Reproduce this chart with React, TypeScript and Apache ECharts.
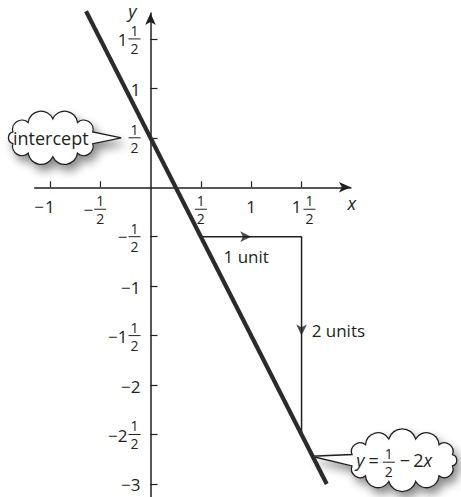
import React, { useEffect, useRef } from "react";
import * as echarts from "echarts";

// ---------- data ----------
const X_MIN = -1.15;
const X_MAX = 1.99;
const Y_MIN = -3.13;
const Y_MAX = 1.762;

const xTickValues = [-1, -0.5, 0.5, 1, 1.5];
const xTickLabels = ["−1", "−1/2", "1/2", "1", "1 1/2"];
const yTickValues = [-3, -2.5, -2, -1.5, -1, -0.5, 0.5, 1, 1.5];
const yTickLabels = ["−3", "−2 1/2", "−2", "−1 1/2", "−1", "−1/2", "1/2", "1", "1 1/2"];

const lineX = [-0.64, 1.75];
const lineY = [1.78, -3.0];

const stepX = [0.5, 1.5, 1.5];
const stepY = [-0.5, -0.5, -2.5];

const arrowX = [1.0, 1.5];
const arrowY = [-0.5, -1.5];
const arrowRotate = [-90, 180];

const stepLabels = ["1 unit", "2 units"];
const stepLabelX = [0.95, 1.6];
const stepLabelY = [-0.7, -1.45];

const interceptText = "intercept";
const interceptTip = [-0.29, 0.5];
const interceptCenter = [-0.97, 0.5];
const equationTip = [1.6, -2.72];
const equationCenter = [2.5, -2.76];

// ---------- style ----------
const INK = "#231f20";
const FONT = '"Open Sans", "Noto Sans", sans-serif';
const MAIN = 17;
const FRAC = 14;
const BAR_W = 12;

let measureCtx: CanvasRenderingContext2D | null = null;
function tw(s: string, size: number, italic = false) {
  if (!measureCtx) measureCtx = document.createElement("canvas").getContext("2d");
  if (!measureCtx) return s.length * size * 0.55;
  measureCtx.font = `${italic ? "italic " : ""}${size}px ${FONT}`;
  return measureCtx.measureText(s).width;
}

function txt(x: number, y: number, text: string, size: number, align = "center", italic = false) {
  return {
    type: "text",
    x,
    y,
    z: 20,
    silent: true,
    style: {
      text,
      fill: INK,
      fontSize: size,
      fontFamily: FONT,
      fontStyle: italic ? "italic" : "normal",
      align,
      verticalAlign: "middle",
      textAlign: align,
      textVerticalAlign: "middle",
    },
  };
}

function fraction(cx: number, barY: number, num: string, den: string, size = FRAC, barW = BAR_W) {
  return [
    txt(cx, barY - 8.5, num, size),
    {
      type: "line",
      z: 20,
      silent: true,
      shape: { x1: cx - barW / 2, y1: barY, x2: cx + barW / 2, y2: barY },
      style: { stroke: INK, lineWidth: 1 },
    },
    txt(cx, barY + 9.5, den, size),
  ];
}

function parseLabel(s0: string) {
  let s = s0;
  let sign = "";
  if (s.startsWith("−")) {
    sign = "−";
    s = s.slice(1);
  }
  let whole = "";
  let num = "";
  let den = "";
  const parts = s.split(" ");
  if (parts.length === 2) {
    whole = parts[0];
    [num, den] = parts[1].split("/");
  } else if (s.includes("/")) {
    [num, den] = s.split("/");
  } else whole = s;
  return { sign, whole, num, den };
}

function xLabel(label: string, tx: number, axisY: number) {
  const { sign, whole, num, den } = parseLabel(label);
  const wW = whole ? tw(whole, MAIN) : 0;
  const fW = num ? BAR_W : 0;
  const gap = whole && num ? 2 : 0;
  const total = wW + gap + fW;
  const left = tx - total / 2 + (whole && num ? 2 : 0);
  const wholeY = axisY + 19;
  const barY = axisY + 22;
  const out: any[] = [];
  if (whole) out.push(txt(left, wholeY, whole, MAIN, "left"));
  if (num) out.push(...fraction(left + wW + gap + fW / 2, barY, num, den));
  if (sign) out.push(txt(left - 1, num && !whole ? barY : wholeY, sign, MAIN, "right"));
  return out;
}

function yLabel(label: string, axisX: number, ty: number) {
  const { sign, whole, num, den } = parseLabel(label);
  const xr = axisX - 10;
  const out: any[] = [];
  if (num) out.push(...fraction(xr - BAR_W / 2, ty, num, den));
  const right = num ? xr - BAR_W - 1 : xr;
  if (whole || sign) out.push(txt(right, num && !whole ? ty : ty + 1, sign + whole, MAIN, "right"));
  return out;
}

function cloudPath(rx: number, ry: number, n: number, tailDeg: number, tipX: number, tipY: number) {
  const ta = (tailDeg * Math.PI) / 180;
  const d = (2 * Math.PI) / n;
  const pts: number[][] = [];
  for (let i = 0; i < n; i++) {
    const a = ta + d / 2 + i * d;
    pts.push([rx * Math.cos(a), ry * Math.sin(a)]);
  }
  let s = `M${pts[0][0].toFixed(2)} ${pts[0][1].toFixed(2)}`;
  for (let i = 0; i < n - 1; i++) {
    const p = pts[i];
    const q = pts[i + 1];
    const c = Math.hypot(q[0] - p[0], q[1] - p[1]);
    const r = c * 0.52;
    s += ` A${r.toFixed(2)} ${r.toFixed(2)} 0 0 1 ${q[0].toFixed(2)} ${q[1].toFixed(2)}`;
  }
  s += ` L${tipX.toFixed(2)} ${tipY.toFixed(2)} Z`;
  return s;
}

export default function App() {
  const ref = useRef<HTMLDivElement>(null);

  useEffect(() => {
    if (!ref.current) return;
    const chart = echarts.init(ref.current, null, { renderer: "svg" });

    const axisLine = {
      onZero: true,
      symbol: ["none", "arrow"],
      symbolSize: [8, 12],
      lineStyle: { color: INK, width: 1.5 },
    };

    chart.setOption({
      animation: false,
      backgroundColor: "#fff",
      grid: { left: 34.7, top: 13, width: 316.2, height: 483.8, containLabel: false },
      xAxis: {
        type: "value",
        min: X_MIN,
        max: X_MAX,
        axisLine,
        axisTick: { show: true, inside: true, length: 6, customValues: xTickValues, lineStyle: { color: INK, width: 1.2 } },
        axisLabel: { show: false },
        splitLine: { show: false },
      },
      yAxis: {
        type: "value",
        min: Y_MIN,
        max: Y_MAX,
        axisLine,
        axisTick: { show: true, inside: true, length: 7, customValues: yTickValues, lineStyle: { color: INK, width: 1.2 } },
        axisLabel: { show: false },
        splitLine: { show: false },
      },
      series: [
        {
          type: "line",
          data: stepX.map((x, i) => [x, stepY[i]]),
          symbol: "none",
          lineStyle: { color: INK, width: 1.5 },
          z: 2,
          silent: true,
        },
        {
          type: "scatter",
          data: arrowX.map((x, i) => ({ value: [x, arrowY[i]], symbolRotate: arrowRotate[i] })),
          symbol: "arrow",
          symbolSize: [8, 11],
          itemStyle: { color: INK },
          z: 3,
          silent: true,
        },
        {
          type: "line",
          data: lineX.map((x, i) => [x, lineY[i]]),
          symbol: "none",
          clip: false,
          lineStyle: { color: "#2b2b2b", width: 4.2 },
          z: 4,
          silent: true,
        },
      ],
    });

    const px = (x: number, y: number) => chart.convertToPixel({ gridIndex: 0 }, [x, y]) as number[];
    const origin = px(0, 0);
    const els: any[] = [];

    xTickValues.forEach((v, i) => {
      const p = px(v, 0);
      els.push(...xLabel(xTickLabels[i], p[0], origin[1]));
    });
    yTickValues.forEach((v, i) => {
      const p = px(0, v);
      els.push(...yLabel(yTickLabels[i], origin[0], p[1]));
    });

    const xEnd = px(X_MAX, 0);
    els.push(txt(xEnd[0] + 1, xEnd[1] + 16, "x", 18, "center", true));
    const yEnd = px(0, Y_MAX);
    els.push(txt(yEnd[0] - 18, yEnd[1] - 2, "y", 18, "center", true));

    stepLabels.forEach((s, i) => {
      const p = px(stepLabelX[i], stepLabelY[i]);
      els.push(txt(p[0], p[1], s, MAIN, i === 0 ? "center" : "left"));
    });

    // clouds
    const ic = px(interceptCenter[0], interceptCenter[1]);
    const it = px(interceptTip[0], interceptTip[1]);
    echarts.graphic.registerShape(
      "cloudIntercept",
      echarts.graphic.extendPath(cloudPath(42, 19, 10, 0, it[0] - ic[0], it[1] - ic[1]), {})
    );
    const ec = px(equationCenter[0], equationCenter[1]);
    const et = px(equationTip[0], equationTip[1]);
    echarts.graphic.registerShape(
      "cloudEquation",
      echarts.graphic.extendPath(cloudPath(52, 22, 12, 180, et[0] - ec[0], et[1] - ec[1]), {})
    );
    const cloudStyle = {
      fill: "#fff",
      stroke: INK,
      lineWidth: 1.3,
      shadowBlur: 10,
      shadowOffsetX: 4,
      shadowOffsetY: 6,
      shadowColor: "rgba(0,0,0,0.45)",
    };
    els.push({ type: "cloudIntercept", x: ic[0], y: ic[1], z: 15, silent: true, style: cloudStyle });
    els.push({ type: "cloudEquation", x: ec[0], y: ec[1], z: 15, silent: true, style: cloudStyle });
    els.push(txt(ic[0] - 2, ic[1], interceptText, 18));

    // equation text: y = 1/2 − 2x
    const ey = ec[1];
    let cx = ec[0] - 46;
    els.push(txt(cx, ey, "y", 18, "left", true));
    cx += tw("y", 18, true) + 4;
    els.push(txt(cx, ey, "=", 18, "left"));
    cx += tw("=", 18) + 4;
    els.push(...fraction(cx + BAR_W / 2, ey + 2, "1", "2"));
    cx += BAR_W + 5;
    els.push(txt(cx, ey, "−", 18, "left"));
    cx += tw("−", 18) + 3;
    els.push(txt(cx, ey, "2", 18, "left"));
    cx += tw("2", 18);
    els.push(txt(cx, ey, "x", 18, "left", true));

    chart.setOption({ graphic: { elements: els } });

    return () => chart.dispose();
  }, []);

  return (
    <div
      ref={ref}
      style={{ position: "fixed", left: 0, top: 0, width: 461, height: 497, background: "#fff" }}
    />
  );
}
